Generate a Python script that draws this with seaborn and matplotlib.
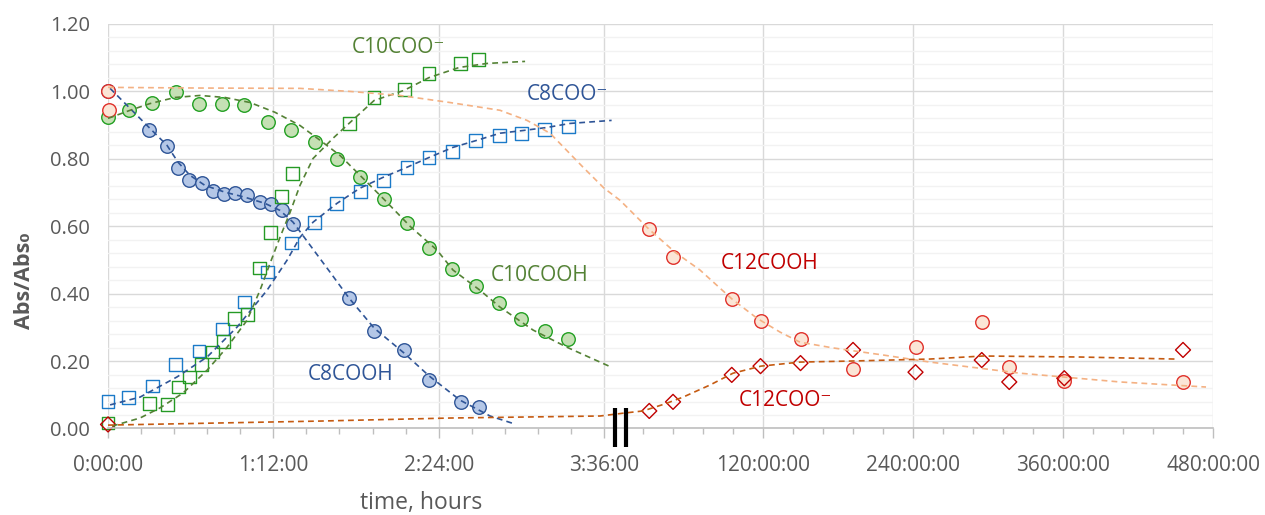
import numpy as np
import matplotlib
matplotlib.use("Agg")
import matplotlib.pyplot as plt
import seaborn as sns
from matplotlib.ticker import FixedLocator, MultipleLocator, FormatStrFormatter

# ---- measured points (time in hours) ----
# 5-minute-ish sampling: C8COOH and C10COO-
t_fast = [0, 0.30, 0.43, 0.51, 0.59, 0.68, 0.76, 0.84, 0.92, 1.01,
          1.10, 1.18, 1.26, 1.34, 1.75, 1.93, 2.15, 2.33, 2.56, 2.69]
c8cooh = [1.0, 0.887, 0.837, 0.772, 0.736, 0.727, 0.704, 0.695, 0.698, 0.692,
          0.671, 0.665, 0.647, 0.606, 0.387, 0.289, 0.233, 0.144, 0.079, 0.064]
c10coo = [0.016, 0.073, 0.070, 0.123, 0.153, 0.191, 0.227, 0.258, 0.327, 0.339,
          0.476, 0.582, 0.689, 0.757, 0.905, 0.982, 1.005, 1.053, 1.083, 1.095]

# 10-minute sampling: C8COO- and C10COOH
t_slow = [0, 0.15, 0.32, 0.49, 0.66, 0.83, 0.99, 1.16, 1.33, 1.50, 1.66,
          1.83, 2.00, 2.17, 2.33, 2.50, 2.67, 2.84, 3.00, 3.17, 3.34]
c8coo = [0.079, 0.093, 0.126, 0.191, 0.230, 0.295, 0.375, 0.464, 0.550, 0.612, 0.668,
         0.704, 0.736, 0.775, 0.804, 0.822, 0.855, 0.870, 0.876, 0.887, 0.896]
c10cooh = [0.923, 0.944, 0.967, 0.997, 0.964, 0.964, 0.961, 0.908, 0.887, 0.849, 0.799,
           0.745, 0.680, 0.609, 0.535, 0.473, 0.422, 0.372, 0.324, 0.289, 0.265]

# C12 acid, long run
t_c12cooh = [0, 0.01, 29, 48, 95, 118, 150, 192, 242, 295, 317, 361, 456]
c12cooh = [1.0, 0.946, 0.591, 0.508, 0.384, 0.319, 0.265, 0.176, 0.241, 0.316, 0.182, 0.141, 0.138]
t_c12coo = [0, 29, 48, 95, 118, 150, 192, 242, 295, 317, 361, 456]
c12coo = [0.012, 0.052, 0.079, 0.159, 0.185, 0.194, 0.233, 0.167, 0.203, 0.138, 0.149, 0.233]

# ---- trend lines ----
fit_c8cooh_t = [0.015, 0.305, 0.428, 0.508, 0.595, 0.704, 0.849, 0.994, 1.138, 1.248,
                1.343, 1.466, 1.611, 1.749, 1.931, 2.148, 2.330, 2.555, 2.773, 2.954]
fit_c8cooh_v = [1.009, 0.890, 0.840, 0.790, 0.751, 0.721, 0.701, 0.686, 0.668, 0.647,
                0.612, 0.544, 0.464, 0.387, 0.298, 0.224, 0.156, 0.084, 0.037, 0.013]

fit_c10cooh_t = [0, 0.160, 0.305, 0.486, 0.668, 0.849, 1.031, 1.212, 1.393, 1.539, 1.684,
                 1.829, 2.010, 2.192, 2.388, 2.504, 2.700, 2.845, 3.085, 3.331, 3.636]
fit_c10cooh_v = [0.920, 0.944, 0.964, 0.982, 0.988, 0.982, 0.967, 0.938, 0.899, 0.855, 0.810,
                 0.751, 0.677, 0.600, 0.529, 0.470, 0.410, 0.360, 0.292, 0.241, 0.185]

fit_c10coo_t = [0.029, 0.232, 0.377, 0.544, 0.719, 0.864, 1.009, 1.103, 1.176, 1.248, 1.321,
                1.393, 1.488, 1.633, 1.749, 1.931, 2.148, 2.330, 2.548, 2.751, 3.027]
fit_c10coo_v = [0.007, 0.031, 0.061, 0.105, 0.173, 0.241, 0.321, 0.410, 0.490, 0.567, 0.641,
                0.721, 0.801, 0.861, 0.905, 0.973, 1.003, 1.041, 1.071, 1.083, 1.089]

fit_c8coo_t = [0.015, 0.232, 0.501, 0.719, 0.937, 1.154, 1.299, 1.393, 1.488, 1.662, 1.829,
               1.996, 2.170, 2.330, 2.504, 2.678, 2.845, 3.012, 3.186, 3.353, 3.655]
fit_c8coo_v = [0.070, 0.093, 0.153, 0.212, 0.301, 0.410, 0.499, 0.567, 0.612, 0.668, 0.713,
               0.745, 0.775, 0.804, 0.834, 0.855, 0.876, 0.884, 0.893, 0.905, 0.914]

fit_c12cooh_t = [0, 0.668, 1.393, 1.756, 2.119, 2.482, 2.845, 3.041, 3.208, 3.448, 3.60,
                 5.6, 28.8, 49.6, 69.6, 95.2, 115.2, 133.6, 149.6, 176, 216, 253.6,
                 325.6, 405.6, 474.4]
fit_c12cooh_v = [1.012, 1.010, 1.009, 1.000, 0.988, 0.967, 0.944, 0.914, 0.876, 0.775, 0.713,
                 0.677, 0.591, 0.523, 0.470, 0.384, 0.327, 0.286, 0.256, 0.239, 0.218, 0.197,
                 0.164, 0.138, 0.123]

fit_c12coo_t = [0, 1.539, 2.482, 3.571, 9.6, 24, 41.6, 56, 77.6, 96, 118.4, 149.6,
                189.6, 253.6, 296, 373.6, 449.6]
fit_c12coo_v = [0.010, 0.022, 0.031, 0.037, 0.046, 0.052, 0.073, 0.093, 0.129, 0.164, 0.185,
                0.197, 0.200, 0.206, 0.215, 0.212, 0.206]

major_t = [0, 1.2, 2.4, 3.6, 120, 240, 360, 480]
major_labels = ["0:00:00", "1:12:00", "2:24:00", "3:36:00",
                "120:00:00", "240:00:00", "360:00:00", "480:00:00"]

# ---- broken time axis: minutes-scale left part, days-scale right part ----
LEFT_RATE = 137.78
RIGHT_RATE = 1.25
RIGHT_OFFSET = 505.0
BREAK_T = 3.66


def fwd(t):
    t = np.asarray(t, dtype=float)
    return np.where(t <= BREAK_T, t * LEFT_RATE, RIGHT_OFFSET + t * RIGHT_RATE)


def inv(u):
    u = np.asarray(u, dtype=float)
    right = np.maximum((u - RIGHT_OFFSET) / RIGHT_RATE, BREAK_T)
    return np.where(u <= BREAK_T * LEFT_RATE, u / LEFT_RATE, right)


sns.set_theme(style="white")
plt.rcParams["font.family"] = ["Open Sans", "DejaVu Sans"]

fig = plt.figure(figsize=(12.65, 5.15), dpi=100)
ax = fig.add_axes([0.0854, 0.168, 0.8735, 0.7854])
ax.set_xscale("function", functions=(fwd, inv))

dash = (0, (3.5, 2.5))
blue, green, red = "#2f5597", "#548235", "#c00000"

# markers
sns.scatterplot(x=t_fast, y=c8cooh, marker="o", s=95, color="#b4c7e7",
                edgecolor="#2f5597", linewidth=1, clip_on=False, zorder=2, ax=ax)
sns.scatterplot(x=t_slow, y=c10cooh, marker="o", s=95, color="#c5e0b4",
                edgecolor="#22a022", linewidth=1, clip_on=False, zorder=2, ax=ax)
sns.scatterplot(x=t_slow, y=c8coo, marker="s", s=85, color="#0070c0", facecolor="none",
                edgecolor="#1b7ac8", linewidth=1, clip_on=False, zorder=2, ax=ax)
sns.scatterplot(x=t_fast, y=c10coo, marker="s", s=85, color="#1e9a1e", facecolor="none",
                edgecolor="#259a25", linewidth=1, clip_on=False, zorder=2, ax=ax)
sns.scatterplot(x=t_c12cooh, y=c12cooh, marker="o", s=95, color="#fbe5d6",
                edgecolor="#e0302a", linewidth=1, clip_on=False, zorder=2, ax=ax)
sns.scatterplot(x=t_c12coo, y=c12coo, marker="D", s=58, color="#c00000", facecolor="none",
                edgecolor="#c00000", linewidth=1, clip_on=False, zorder=2, ax=ax)

# trend lines
for ft, fv, col in [(fit_c8cooh_t, fit_c8cooh_v, "#2f5597"),
                    (fit_c8coo_t, fit_c8coo_v, "#2f5597"),
                    (fit_c10cooh_t, fit_c10cooh_v, "#548235"),
                    (fit_c10coo_t, fit_c10coo_v, "#548235"),
                    (fit_c12cooh_t, fit_c12cooh_v, "#f4b183"),
                    (fit_c12coo_t, fit_c12coo_v, "#c55a11")]:
    sns.lineplot(x=ft, y=fv, sort=False, estimator=None, color=col, lw=1.2,
                 linestyle=dash, zorder=3, ax=ax)

ax.set_xlim(0, 480)
ax.set_ylim(0, 1.2)
ax.xaxis.set_major_locator(FixedLocator(major_t))
ax.set_xticklabels(major_labels)
minor_left = [0.24 * k for k in range(1, 16) if k % 5]
minor_right = [24 * k for k in range(1, 20) if k % 5]
ax.xaxis.set_minor_locator(FixedLocator(minor_left + minor_right))
ax.yaxis.set_major_locator(MultipleLocator(0.2))
ax.yaxis.set_minor_locator(MultipleLocator(0.04))
ax.yaxis.set_major_formatter(FormatStrFormatter("%.2f"))

ax.grid(True, which="major", color="#d9d9d9", lw=1)
ax.grid(True, which="minor", axis="y", color="#f2f2f2", lw=1)
ax.set_axisbelow(True)
for side in ["left", "top", "right"]:
    ax.spines[side].set_visible(False)
ax.spines["bottom"].set_color("#bfbfbf")
ax.spines["bottom"].set_linewidth(1.2)

ax.tick_params(axis="x", which="major", length=7, width=1, color="#bfbfbf",
               labelsize=15, labelcolor="#595959", pad=12, bottom=True)
ax.tick_params(axis="x", which="minor", length=4, width=1, color="#bfbfbf", bottom=True)
ax.tick_params(axis="y", which="both", length=0, labelsize=14.5, labelcolor="#595959", pad=13)

# axis titles
fig.text(25 / 1265, 1 - 281 / 515, "Abs/Abs\u2080", rotation=90, ha="center", va="center",
         fontsize=15.5, fontweight="bold", color="#595959")
fig.text(421 / 1265, 1 - 503 / 515, "time, hours", ha="center", va="center",
         fontsize=16.5, color="#595959")

# series labels
ax.text(0.2208, 0.9407, "C10COO\u207b", transform=ax.transAxes, ha="left", va="center",
        fontsize=15, color=green)
ax.text(0.3792, 0.8245, "C8COO\u207b", transform=ax.transAxes, ha="left", va="center",
        fontsize=15, color=blue)
ax.text(0.3466, 0.377, "C10COOH", transform=ax.transAxes, ha="left", va="center",
        fontsize=15, color=green)
ax.text(0.181, 0.1323, "C8COOH", transform=ax.transAxes, ha="left", va="center",
        fontsize=15, color=blue)
ax.text(0.5548, 0.409, "C12COOH", transform=ax.transAxes, ha="left", va="center",
        fontsize=15, color=red)
ax.text(0.571, 0.068, "C12COO\u207b", transform=ax.transAxes, ha="left", va="center",
        fontsize=15, color=red)

# axis break marks
for xb in [0.4588, 0.4688]:
    ax.plot([xb, xb], [0.05, -0.047], transform=ax.transAxes, color="black", lw=3,
            solid_capstyle="butt", clip_on=False, zorder=5)

fig.savefig("out.png", dpi=100, facecolor="white")
